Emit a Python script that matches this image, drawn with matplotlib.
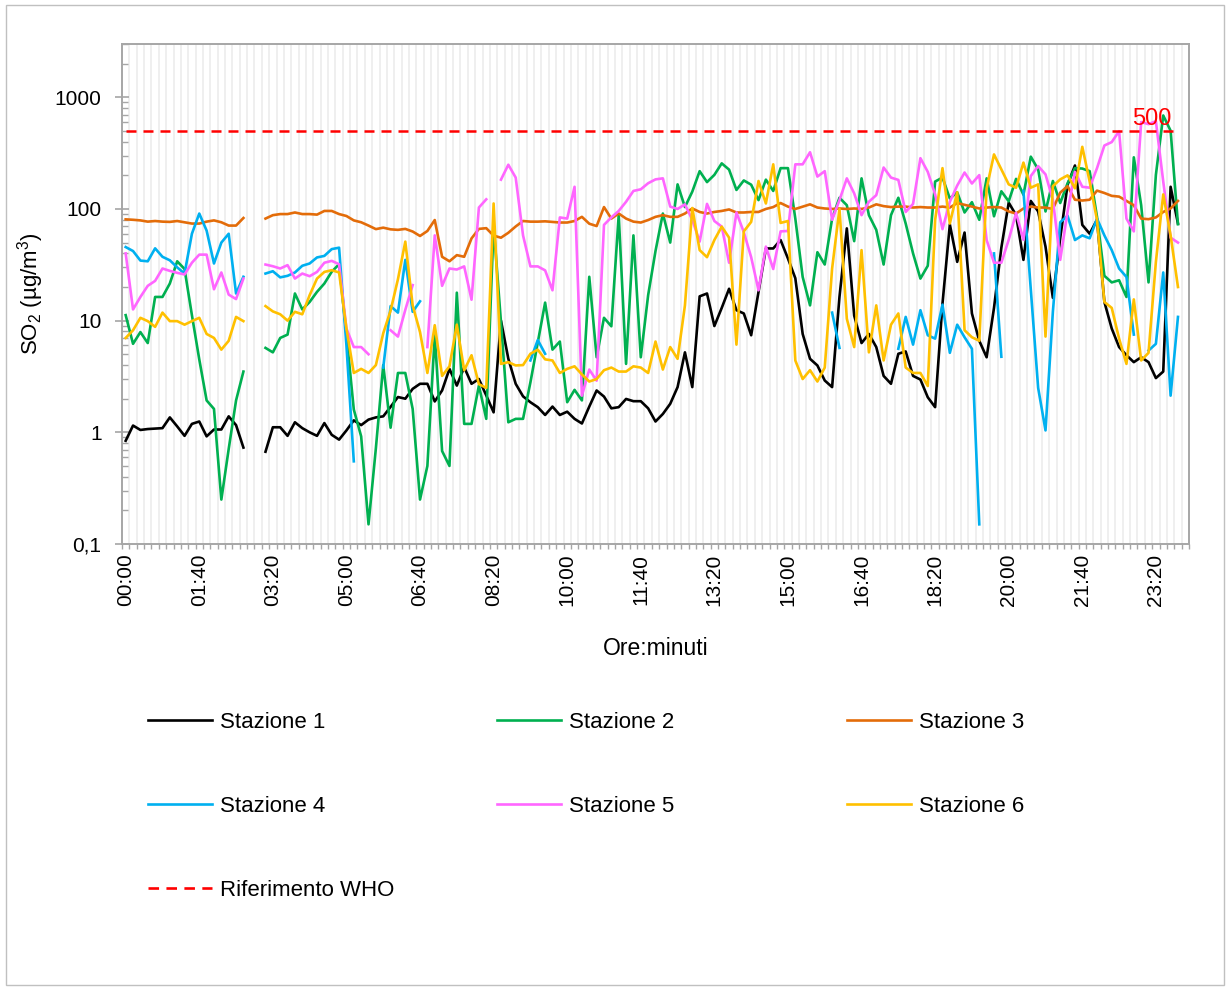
import numpy as np
import matplotlib
matplotlib.use("Agg")
import matplotlib.pyplot as plt
from matplotlib.lines import Line2D
from matplotlib.patches import Rectangle
from matplotlib.ticker import FixedLocator, LogLocator, NullFormatter

plt.rcParams['font.family'] = ['Liberation Sans', 'DejaVu Sans']
plt.rcParams['mathtext.fontset'] = 'custom'
plt.rcParams['mathtext.rm'] = 'Liberation Sans'
plt.rcParams['mathtext.it'] = 'Liberation Sans'

nan = np.nan

# 10-minute categories, 00:00 .. 23:50 (plus one empty slot at the end, as in the sheet)
times = ["%02d:%02d" % divmod(m, 60) for m in range(0, 1440, 10)]
tick_labels = times[::10]

# SO2 (ug/m3) per station
staz1 = [0.84, 1.15, 1.05, 1.07, 1.08, 1.09, 1.36, 1.13, 0.93, 1.19, 1.25, 0.92, 1.06, 1.06, 1.39, 1.16, 0.73,
         nan, nan,
         0.67, 1.11, 1.11, 0.93, 1.23, 1.09, 1.0, 0.93, 1.21, 0.95, 0.86, 1.04, 1.28, 1.16, 1.3, 1.36, 1.39,
         1.69, 2.07, 2.0, 2.45, 2.72, 2.72, 1.89, 2.37, 3.7, 2.62, 3.83, 2.72, 3.0, 2.14, 1.51, 10.0, 4.56, 2.72, 2.1,
         1.86, 1.68, 1.43, 1.70, 1.43, 1.53, 1.32, 1.20, 1.70, 2.37, 2.09, 1.64, 1.68, 1.99, 1.90, 1.90, 1.64, 1.25,
         1.46, 1.8, 2.54, 5.2, 2.54, 16.5, 17.5, 8.95, 13.0, 19.3, 12.4, 11.6, 7.4, 18.1, 44.3, 44.3, 52.7, 36.0, 24.0,
         7.6, 4.55, 3.97, 2.91, 2.54, 16.3, 67.0, 11.1, 6.3, 7.6, 5.8, 3.2, 2.72, 5.05, 5.3, 3.2, 2.97, 2.06,
         1.68, 14.2, 72.7, 33.6, 61.5, 11.6, 6.6, 4.7, 13.0, 45.0, 114.0, 88.0, 35.0, 118.0, 95.0, 46.0, 16.0, 55.0,
         165.0, 245.0, 72.0, 60.0, 80.0, 14.7, 8.5, 5.8, 4.9, 4.25, 4.7, 4.25, 3.06, 3.5, 158.0, 74.0]

staz2 = [11.2, 6.2, 7.9, 6.3, 16.3, 16.3, 21.5, 34.0, 29.0, 11.2, 4.5, 1.93, 1.62, 0.25, 0.71, 1.93, 3.5,
         nan, nan,
         5.7, 5.2, 7.0, 7.5, 17.5, 12.6, 14.7, 18.1, 21.5, 27.4, 32.0, 7.5, 1.6, 0.92, 0.15, 0.72, 4.0,
         1.1, 3.4, 3.4, 1.62, 0.25, 0.50, 7.4, 0.68, 0.50, 17.8, 1.19, 1.19, 2.62, 1.32, 71.0, 9.7, 1.23, 1.32, 1.32,
         2.8, 6.4, 14.5, 5.5, 6.5, 1.86, 2.4, 1.93, 24.7, 4.7, 10.6, 8.9, 88.0, 4.1, 58.0, 4.7, 16.9, 42.0,
         91.0, 50.0, 166.0, 104.0, 143.0, 218.0, 174.0, 202.0, 256.0, 225.0, 148.0, 180.0, 165.0, 120.0, 183.0, 145.0, 232.0, 232.0, 82.0,
         24.6, 13.7, 41.0, 31.8, 82.0, 126.0, 108.0, 51.5, 188.0, 88.0, 65.0, 31.8, 88.0, 126.0, 74.0, 40.0, 23.8, 31.0,
         176.0, 191.0, 124.0, 141.0, 93.0, 115.0, 80.0, 188.0, 86.0, 144.0, 117.0, 186.0, 134.0, 294.0, 226.0, 95.0, 178.0, 113.0,
         170.0, 232.0, 230.0, 218.0, 85.0, 25.2, 22.0, 23.0, 16.3, 290.0, 108.0, 22.0, 202.0, 687.0, 502.0, 73.0]

staz3 = [80.7, 80.0, 79.0, 77.0, 78.0, 77.0, 76.6, 78.0, 76.0, 74.0, 74.0, 77.0, 79.0, 76.0, 71.0, 71.0, 83.0,
         nan, nan,
         82.0, 88.0, 90.0, 90.0, 93.0, 90.0, 90.0, 89.0, 96.0, 96.0, 90.0, 86.5, 79.0, 76.0, 71.0, 66.0, 68.0,
         65.7, 65.0, 66.3, 62.8, 57.3, 63.5, 79.6, 37.3, 34.0, 38.6, 37.3, 54.5, 66.3, 67.3, 57.7, 55.3, 61.2, 69.7, 78.0,
         77.0, 77.0, 77.5, 76.5, 75.6, 75.6, 78.0, 85.0, 73.8, 70.3, 104.0, 82.0, 91.0, 82.0, 77.0, 75.6, 79.6, 85.0,
         88.0, 85.0, 85.0, 91.0, 101.0, 94.0, 91.0, 94.0, 96.0, 99.0, 93.0, 93.0, 94.0, 94.0, 100.0, 104.0, 113.0, 105.0, 100.0,
         105.0, 110.0, 103.0, 101.0, 100.0, 101.0, 100.0, 101.0, 100.0, 103.0, 110.0, 106.0, 104.0, 105.0, 105.0, 103.0, 104.0, 103.0,
         103.0, 105.0, 103.0, 113.0, 109.0, 105.0, 101.0, 103.0, 104.0, 103.0, 95.0, 91.0, 101.0, 105.0, 103.0, 103.0, 100.0, 140.0,
         160.0, 121.0, 119.0, 121.0, 146.0, 139.0, 131.0, 129.0, 118.0, 108.0, 82.0, 81.0, 84.0, 94.0, 101.0, 118.0]

staz4 = [45.6, 42.0, 34.5, 34.0, 44.4, 37.3, 34.7, 30.0, 26.4, 60.0, 91.0, 64.0, 32.5, 50.0, 60.0, 17.5, 24.7,
         nan, nan,
         26.4, 27.7, 24.4, 25.2, 27.0, 31.0, 32.5, 36.8, 38.0, 43.7, 45.0, 6.0, 0.55, nan, nan, nan, 3.8,
         13.5, 11.8, 35.0, 12.0, 14.9, nan, nan, nan, nan, nan, nan, nan, nan, nan, nan, nan, nan, nan, nan,
         4.4, 6.7, 5.05, nan, nan, nan, nan, nan, nan, nan, nan, nan, nan, nan, nan, nan, nan, nan,
         nan, nan, nan, nan, nan, nan, nan, nan, nan, nan, nan, nan, nan, nan, nan, nan, nan, nan, nan,
         nan, nan, nan, nan, 11.8, 5.7, nan, nan, nan, nan, nan, nan, nan, 5.6, 10.8, 6.1, 12.4, 7.4,
         6.9, 13.9, 5.15, 9.2, 7.1, 5.6, 0.15, nan, 40.0, 4.75, nan, nan, 145.0, 18.9, 2.5, 1.04, 12.0, 76.0,
         87.0, 52.7, 58.0, 54.6, 82.0, 58.0, 42.8, 29.3, 24.6, 7.5, nan, 5.4, 6.2, 27.0, 2.13, 10.8]

staz5 = [40.0, 12.6, 16.3, 20.5, 22.7, 29.3, 27.9, 26.8, 25.9, 33.0, 39.0, 39.0, 19.1, 27.0, 17.1, 15.6, 23.8,
         nan, nan,
         31.8, 30.7, 29.3, 31.4, 23.8, 26.4, 25.0, 27.3, 33.0, 34.3, 32.0, 8.5, 5.8, 5.8, 5.0, nan, nan,
         8.2, 7.2, 12.5, 20.8, nan, 5.8, 58.0, 20.5, 29.3, 28.7, 30.6, 15.4, 103.0, 122.0, nan, 183.0, 249.0, 191.0, 58.0,
         30.6, 30.6, 28.2, 18.7, 84.0, 82.0, 158.0, 2.13, 3.65, 2.9, 72.0, 84.0, 96.0, 116.0, 145.0, 150.0, 170.0, 184.0,
         188.0, 105.0, 100.0, 110.0, 80.0, 51.0, 111.0, 78.0, 69.5, 33.0, 93.0, 62.0, 37.0, 18.7, 46.0, 29.0, 63.0, 63.5, 251.0,
         251.0, 322.0, 195.0, 218.0, 80.0, 120.0, 188.0, 138.0, 88.0, 116.0, 133.0, 235.0, 191.0, 182.0, 94.0, 111.0, 285.0, 215.0,
         135.0, 66.0, 116.0, 162.0, 212.0, 169.0, 201.0, 52.7, 33.0, 33.0, 53.0, 92.0, 53.0, 197.0, 242.0, 204.0, 121.0, 35.0,
         95.0, 215.0, 158.0, 155.0, 232.0, 370.0, 397.0, 497.0, 82.0, 63.0, 600.0, 575.0, 610.0, 176.0, 55.3, 50.0]

staz6 = [7.0, 8.2, 10.6, 9.9, 8.8, 11.8, 9.9, 9.9, 9.2, 9.9, 10.6, 7.6, 7.0, 5.5, 6.6, 10.8, 9.9,
         nan, nan,
         13.5, 12.1, 11.4, 10.0, 12.0, 11.4, 16.9, 23.8, 27.3, 28.3, 27.0, 8.5, 3.4, 3.7, 3.4, 4.0, 7.7,
         12.3, 23.5, 51.0, 13.7, 7.9, 3.4, 9.1, 3.2, 3.9, 9.2, 3.6, 4.9, 2.7, 2.5, 112.0, 4.1, 4.25, 3.97, 4.0,
         5.05, 5.5, 4.5, 4.4, 3.4, 3.7, 3.9, 3.3, 2.85, 3.0, 3.6, 3.8, 3.5, 3.5, 3.9, 3.8, 3.4, 6.5,
         3.65, 5.8, 4.55, 13.7, 102.0, 42.8, 37.0, 52.7, 69.5, 55.3, 6.1, 63.0, 76.6, 178.0, 112.0, 251.0, 75.0, 78.0, 4.4,
         3.0, 3.6, 2.85, 3.8, 29.3, 100.0, 10.4, 5.8, 42.8, 5.2, 13.7, 4.4, 9.2, 11.6, 3.8, 3.4, 3.4, 2.6,
         79.6, 232.0, 74.0, 141.0, 8.2, 7.1, 6.6, 153.0, 308.0, 226.0, 166.0, 155.0, 260.0, 155.0, 166.0, 7.2, 160.0, 184.0,
         200.0, 153.0, 360.0, 176.0, 79.6, 14.7, 13.0, 6.9, 4.1, 15.5, 4.4, 5.15, 33.6, 135.0, 58.0, 20.0]

WHO_LIMIT = 500

names = ["Stazione 1", "Stazione 2", "Stazione 3", "Stazione 4", "Stazione 5", "Stazione 6"]
series = [staz1, staz2, staz3, staz4, staz5, staz6]
colors = ["#000000", "#00b050", "#e36c09", "#00b0f0", "#ff66ff", "#ffc000"]

x = np.arange(len(times))

fig = plt.figure(figsize=(12.29, 9.89), dpi=100)
fig.patches.append(Rectangle((6 / 1229, 4 / 989), 1218 / 1229, 980 / 989, transform=fig.transFigure,
                             fill=False, edgecolor="#c0c0c0", lw=1.0))
ax = fig.add_axes([122 / 1229, 1 - 544 / 989, (1189 - 122) / 1229, (544 - 44) / 989])

# light vertical stripes between categories
for b in np.arange(0.5, len(times) + 0.5, 1.0):
    ax.axvline(b, color="#eeeeee", lw=1.3, zorder=0)

lines = []
for name, vals, c in zip(names, series, colors):
    ln, = ax.plot(x, np.array(vals, dtype=float), color=c, lw=1.9, label=name, zorder=3)
    lines.append(ln)

ax.hlines(WHO_LIMIT, x[0], x[-1], colors="#ff0000", linestyles=(0, (4, 2.8)), lw=1.8, zorder=4)
ax.annotate(str(WHO_LIMIT), xy=(142.1, WHO_LIMIT), xytext=(0, 1), textcoords="offset points",
            ha="right", va="bottom", color="#ff0000", fontsize=17)

ax.set_yscale("log")
ax.set_ylim(0.1, 3000)
ax.set_xlim(-0.5, len(times) + 0.5)

ax.yaxis.set_major_locator(FixedLocator([0.1, 1, 10, 100, 1000]))
ax.set_yticklabels(["0,1", "1", "10", "100", "1000"])
ax.yaxis.set_minor_locator(LogLocator(base=10, subs=np.arange(2, 10)))
ax.yaxis.set_minor_formatter(NullFormatter())
ax.tick_params(axis="y", which="major", direction="inout", length=9.5, width=1.2, color="#a6a6a6",
               labelsize=15, pad=10)
ax.tick_params(axis="y", which="minor", direction="in", length=4.3, width=1.0, color="#a6a6a6")

ax.set_xticks(x[::10])
ax.set_xticklabels(tick_labels, rotation=90)
ax.set_xticks(np.arange(-0.5, len(times) + 1.0, 1.0), minor=True)
ax.tick_params(axis="x", which="major", length=0, labelsize=15, pad=7)
ax.tick_params(axis="x", which="minor", direction="out", length=3.6, width=1.0, color="#a6a6a6")

for sp in ax.spines.values():
    sp.set_color("#a6a6a6")
    sp.set_linewidth(1.4)

ax.set_ylabel("SO$_2$ (µg/m$^3$)", fontsize=16, labelpad=6)
ax.set_xlabel("Ore:minuti", fontsize=16.5, labelpad=22)

who_handle = Line2D([], [], color="#ff0000", lw=1.9, linestyle=(0, (4, 2.8)))
cols = [([lines[0], lines[3], who_handle], ["Stazione 1", "Stazione 4", "Riferimento WHO"], 148),
        ([lines[1], lines[4]], ["Stazione 2", "Stazione 5"], 497),
        ([lines[2], lines[5]], ["Stazione 3", "Stazione 6"], 847)]
for hs, labs, xp in cols:
    fig.legend(hs, labs, loc="upper left", bbox_to_anchor=(xp / 1229, 1 - 712 / 989),
               frameon=False, fontsize=16, handlelength=2.88, handletextpad=0.36,
               borderpad=0, borderaxespad=0, labelspacing=2.83)

fig.savefig("out.png", dpi=100)
